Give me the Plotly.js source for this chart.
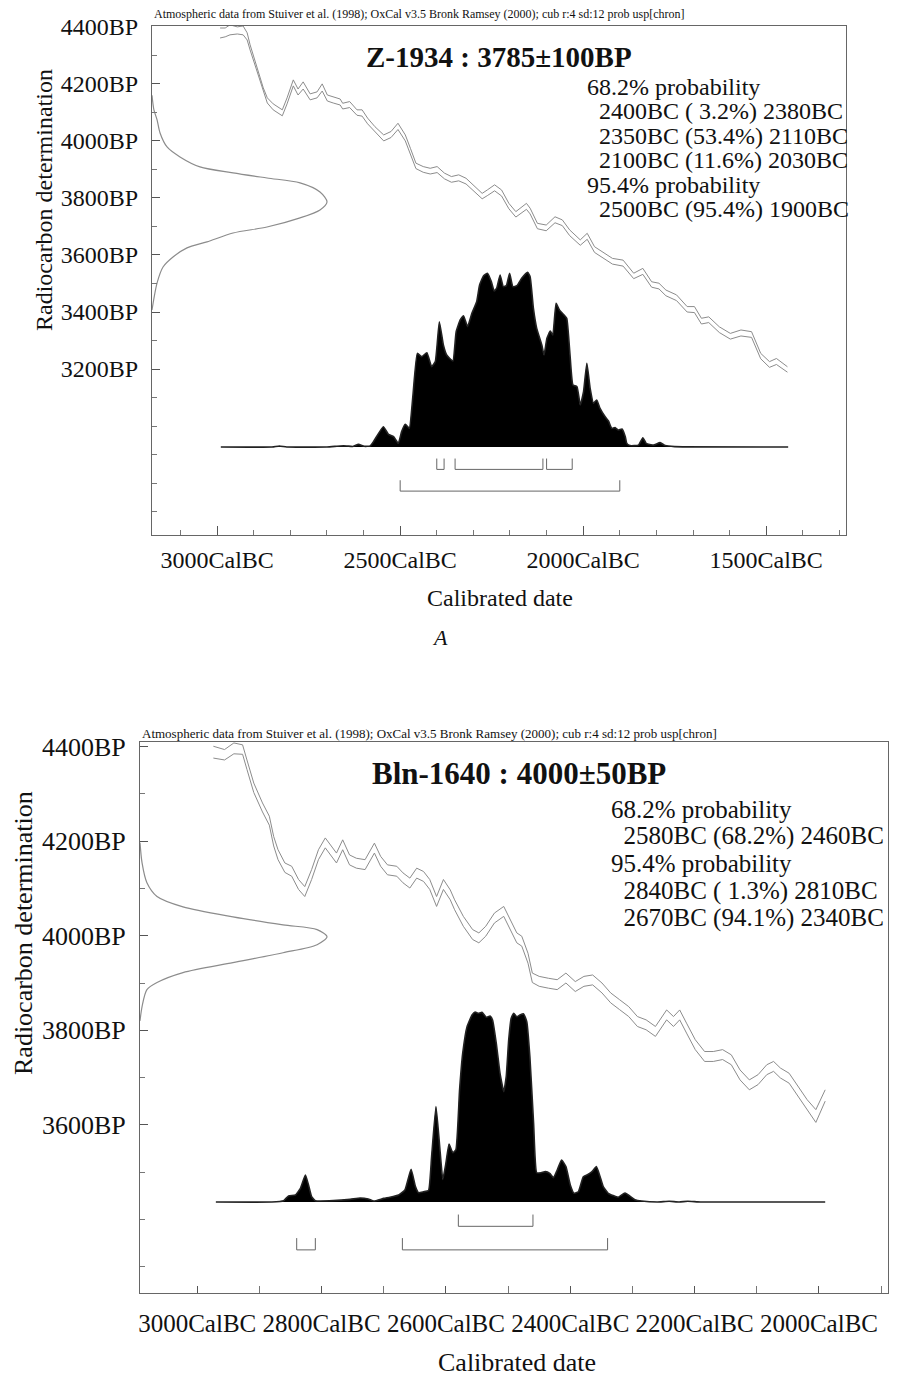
<!DOCTYPE html>
<html><head><meta charset="utf-8">
<script src="https://cdn.plot.ly/plotly-3.0.1.min.js"></script>
<style>html,body{margin:0;padding:0;background:#fff}#chart{width:900px;height:1378px}</style>
</head><body><div id="chart"></div>
<script>
// ---------------- Chart A : Z-1934 ----------------
const calYearsA = [2992,2978,2965,2945,2929,2918,2910,2891,2874,2863,2847,2822,2809,2792,2779,2765,2746,2727,2713,2699,2683,2664,2657,2638,2618,2604,2589,2569,2545,2525,2506,2486,2472,2457,2437,2418,2399,2379,2360,2340,2320,2296,2276,2262,2242,2223,2203,2184,2155,2145,2125,2101,2077,2057,2037,2008,1989,1969,1940,1920,1891,1862,1837,1813,1793,1774,1745,1716,1696,1677,1657,1628,1598,1569,1540,1515,1491,1472,1442];
const calUpperA = [4396,4396,4407,4400,4403,4379,4337,4256,4186,4151,4130,4109,4151,4214,4182,4207,4165,4172,4200,4161,4154,4147,4132,4138,4109,4109,4080,4050,4021,4033,4062,4021,3974,3922,3910,3904,3910,3887,3875,3881,3869,3840,3816,3828,3846,3828,3781,3752,3781,3764,3711,3705,3734,3723,3688,3653,3676,3629,3606,3588,3582,3536,3553,3506,3501,3477,3460,3419,3419,3378,3383,3348,3325,3337,3331,3255,3226,3237,3208];
const calLowerA = [4361,4365,4372,4375,4372,4354,4319,4242,4172,4133,4109,4088,4130,4193,4161,4182,4144,4151,4175,4140,4133,4126,4112,4117,4090,4087,4060,4031,4000,4012,4040,4000,3955,3903,3890,3884,3889,3867,3855,3860,3849,3820,3797,3808,3825,3807,3762,3733,3760,3744,3692,3685,3713,3703,3668,3634,3655,3609,3586,3568,3561,3517,3532,3487,3481,3457,3440,3400,3398,3358,3363,3328,3305,3316,3311,3236,3206,3216,3189];
const probYearsA = [2990,2850,2830,2810,2700,2664,2646,2630,2614,2598,2582,2573,2546,2532,2518,2505,2496,2486,2475,2465,2453,2441,2427,2414,2404,2393,2382,2373,2356,2347,2336,2327,2316,2304,2291,2283,2272,2261,2251,2243,2236,2227,2218,2210,2201,2192,2181,2168,2152,2145,2136,2127,2113,2107,2099,2090,2083,2074,2065,2054,2045,2036,2028,2017,2008,1999,1990,1981,1972,1963,1954,1940,1931,1922,1913,1904,1894,1885,1881,1872,1849,1837,1828,1808,1790,1776,1750,1440];
const probA = [0,0,0.006,0,0,0.006,0.006,0.003,0.015,0.004,0.006,0.03,0.116,0.072,0.059,0.021,0.088,0.130,0.107,0.297,0.535,0.516,0.539,0.459,0.488,0.716,0.583,0.526,0.491,0.659,0.726,0.750,0.688,0.764,0.830,0.926,0.979,0.992,0.945,0.891,0.910,0.983,0.916,0.922,0.992,0.916,0.922,0.964,0.998,0.973,0.792,0.678,0.583,0.526,0.621,0.663,0.640,0.821,0.783,0.758,0.735,0.526,0.354,0.345,0.240,0.316,0.478,0.335,0.250,0.269,0.221,0.173,0.149,0.107,0.111,0.097,0.103,0.059,0.021,0.008,0.011,0.053,0.021,0.011,0.025,0.008,0.002,0];
const gaussBPA = [3407,3502,3558,3593,3625,3646,3677,3698,3730,3758,3786,3821,3853,3870,3888,3909,3944,3979,4028,4074,4109,4160];
const gaussDensA = [0,0.029,0.063,0.12,0.20,0.314,0.463,0.657,0.846,0.96,1.0,0.96,0.846,0.657,0.463,0.274,0.16,0.086,0.046,0.029,0.011,0];
const r68FromA = [2400,2350,2100], r68ToA = [2380,2110,2030], pct68A = [3.2,53.4,11.6];
const r95FromA = [2500], r95ToA = [1900], pct95A = [95.4];
const xTickValsA = [3000,2500,2000,1500];
const xTickTextA = ['3000CalBC','2500CalBC','2000CalBC','1500CalBC'];
const yTickValsA = [3200,3400,3600,3800,4000,4200,4400];
const yTickTextA = ['3200BP','3400BP','3600BP','3800BP','4000BP','4200BP','4400BP'];
const titleA = 'Z-1934 : 3785±100BP';

// ---------------- Chart B : Bln-1640 ----------------
const calYearsB = [2974,2956,2941,2927,2920,2909,2895,2884,2877,2870,2859,2848,2837,2827,2816,2805,2794,2783,2776,2766,2755,2744,2730,2715,2705,2694,2679,2669,2658,2647,2636,2626,2615,2604,2593,2586,2572,2557,2547,2536,2522,2507,2496,2486,2478,2468,2461,2450,2435,2421,2407,2392,2378,2364,2349,2335,2321,2306,2292,2278,2263,2245,2234,2224,2213,2199,2184,2170,2155,2141,2127,2112,2098,2084,2073,2062,2048,2033,2019,2005,1990];
const calUpperB = [4401,4394,4408,4404,4372,4323,4281,4253,4210,4182,4154,4147,4119,4104,4140,4182,4207,4186,4175,4203,4171,4164,4161,4196,4168,4150,4147,4133,4122,4143,4136,4119,4083,4119,4097,4076,4041,4013,4006,4020,4048,4062,4034,4006,3999,3963,3921,3914,3910,3907,3921,3903,3914,3917,3900,3879,3865,3850,3829,3822,3808,3843,3829,3843,3815,3780,3755,3755,3759,3748,3716,3695,3706,3727,3734,3720,3709,3681,3653,3632,3674];
const calLowerB = [4376,4372,4385,4384,4352,4303,4262,4234,4190,4161,4134,4126,4098,4083,4119,4161,4186,4165,4154,4182,4150,4143,4140,4175,4147,4129,4126,4112,4101,4122,4115,4098,4062,4098,4076,4055,4020,3992,3985,3999,4027,4041,4013,3985,3978,3942,3901,3893,3889,3886,3900,3882,3893,3896,3879,3858,3844,3829,3808,3801,3787,3822,3808,3822,3794,3759,3734,3734,3738,3727,3695,3674,3685,3706,3713,3699,3688,3660,3632,3605,3650];
const probYearsB = [2970,2880,2861,2853,2842,2834,2826,2821,2816,2810,2781,2754,2738,2725,2716,2700,2690,2676,2666,2656,2649,2644,2636,2628,2623,2616,2610,2605,2600,2595,2589,2584,2578,2573,2566,2558,2553,2548,2542,2535,2529,2525,2519,2513,2507,2503,2499,2495,2491,2486,2481,2475,2470,2465,2459,2454,2447,2440,2433,2427,2421,2414,2407,2400,2394,2387,2379,2371,2365,2358,2352,2347,2339,2323,2312,2296,2285,2260,2241,2225,2211,2190,1990];
const probB = [0,0,0.007,0.032,0.037,0.072,0.142,0.090,0.028,0.007,0.007,0.014,0.021,0.016,0.005,0.019,0.025,0.037,0.063,0.172,0.081,0.049,0.054,0.060,0.239,0.502,0.291,0.119,0.204,0.305,0.260,0.274,0.590,0.782,0.923,0.984,1.0,0.993,0.998,0.972,0.979,0.958,0.835,0.677,0.581,0.660,0.853,0.967,0.993,0.975,0.984,0.990,0.949,0.765,0.414,0.154,0.154,0.160,0.151,0.128,0.168,0.221,0.186,0.090,0.046,0.054,0.133,0.146,0.160,0.186,0.133,0.081,0.046,0.025,0.047,0.012,0.005,0,0.004,0,0.004,0,0];
const gaussBPB = [3820,3850,3886,3901,3922,3943,3964,3981,3998,4013,4023,4040,4061,4083,4112,4154,4197];
const gaussDensB = [0,0.011,0.037,0.091,0.23,0.497,0.765,0.947,1.0,0.947,0.765,0.497,0.23,0.091,0.037,0.011,0];
const r68FromB = [2580], r68ToB = [2460], pct68B = [68.2];
const r95FromB = [2840,2670], r95ToB = [2810,2340], pct95B = [1.3,94.1];
const xTickValsB = [3000,2800,2600,2400,2200,2000];
const xTickTextB = ['3000CalBC','2800CalBC','2600CalBC','2400CalBC','2200CalBC','2000CalBC'];
const yTickValsB = [3600,3800,4000,4200,4400];
const yTickTextB = ['3600BP','3800BP','4000BP','4200BP','4400BP'];
const titleB = 'Bln-1640 : 4000±50BP';

const headerText = 'Atmospheric data from Stuiver et al. (1998); OxCal v3.5 Bronk Ramsey (2000); cub r:4 sd:12 prob usp[chron]';

// ---------------- layout helpers ----------------
const W = 900, H = 1378;
const FONT = 'Liberation Serif, Times New Roman, Times, serif';
const px = v => v / W, py = v => 1 - v / H;
const NB = '\u00a0';
const boxA = {l:152, r:846, t:26, b:535, base:447, peak:175};
const boxB = {l:140, r:888, t:742, b:1293, base:1202, peak:190};
const gWA = 175, gWB = 187; // gaussian peak widths in px

function brackets(from, to, top, bot) {
  const xs = [], ys = [];
  for (let i = 0; i < from.length; i++) {
    xs.push(from[i], from[i], to[i], to[i], null);
    ys.push(top, bot, bot, top, null);
  }
  return {xs, ys};
}
function rangeLine(a, p, b) {
  let ps = p.toFixed(1);
  if (ps.length < 4) ps = NB + ps;
  return NB + NB + a + 'BC (' + ps + '%) ' + b + 'BC';
}

const CURVE = {color:'#8c8c8c', width:1};
const traces = [];
function addChart(xa, ya, xg, yp, yrs, up, lo, gbp, gd, pyrs, pv, f68, t68, f95, t95) {
  traces.push({x:yrs, y:up, xaxis:xa, yaxis:ya, type:'scatter', mode:'lines', line:CURVE, hoverinfo:'skip'});
  traces.push({x:yrs, y:lo, xaxis:xa, yaxis:ya, type:'scatter', mode:'lines', line:CURVE, hoverinfo:'skip'});
  traces.push({x:gd, y:gbp, xaxis:xg, yaxis:ya, type:'scatter', mode:'lines', line:{color:'#8c8c8c', width:1.2, shape:'spline', smoothing:0.8}, hoverinfo:'skip'});
  traces.push({x:pyrs, y:pv, xaxis:xa, yaxis:yp, type:'scatter', mode:'lines', fill:'tozeroy', fillcolor:'#000', line:{color:'#222', width:1.6, shape:'spline', smoothing:0.4}, hoverinfo:'skip'});
  const b1 = brackets(f68, t68, -0.066, -0.128);
  const b2 = brackets(f95, t95, -0.190, -0.252);
  traces.push({x:b1.xs, y:b1.ys, xaxis:xa, yaxis:yp, type:'scatter', mode:'lines', line:{color:'#666', width:1}, hoverinfo:'skip'});
  traces.push({x:b2.xs, y:b2.ys, xaxis:xa, yaxis:yp, type:'scatter', mode:'lines', line:{color:'#666', width:1}, hoverinfo:'skip'});
}
addChart('x','y','x3','y3', calYearsA, calUpperA, calLowerA, gaussBPA, gaussDensA, probYearsA, probA, r68FromA, r68ToA, r95FromA, r95ToA);
addChart('x2','y2','x4','y4', calYearsB, calUpperB, calLowerB, gaussBPB, gaussDensB, probYearsB, probB, r68FromB, r68ToB, r95FromB, r95ToB);

function mainX(box, range, tv, tt, fs, minorLen, majorLen, anchor, standoff) {
  return {domain:[px(box.l), px(box.r)], range:range, anchor:anchor, autorange:false,
    tickmode:'array', tickvals:tv, ticktext:tt, ticks:'inside', ticklen:majorLen, tickwidth:1, tickcolor:'#555',
    minor:{tickmode:'linear', tick0:0, dtick:100, ticks:'inside', ticklen:minorLen, tickwidth:1, tickcolor:'#777', showgrid:false},
    showline:true, mirror:true, linecolor:'#666', linewidth:1, showgrid:false, zeroline:false,
    tickfont:{family:FONT, size:fs, color:'#111'}, ticklabelstandoff:standoff, fixedrange:true};
}
function mainY(box, range, tv, tt, fs, anchor) {
  return {domain:[py(box.b), py(box.t)], range:range, anchor:anchor, autorange:false,
    tickmode:'array', tickvals:tv, ticktext:tt, ticks:'inside', ticklen:8, tickwidth:1, tickcolor:'#555',
    minor:{tickmode:'linear', tick0:0, dtick:100, ticks:'inside', ticklen:5, tickwidth:1, tickcolor:'#777', showgrid:false},
    showline:true, mirror:true, linecolor:'#666', linewidth:1, showgrid:false, zeroline:false,
    tickfont:{family:FONT, size:fs, color:'#111'}, ticklabelstandoff:8, fixedrange:true};
}
function overlayX(box, over, anchor, gw) {
  return {domain:[px(box.l), px(box.r)], overlaying:over, anchor:anchor, range:[0, (box.r - box.l) / gw], visible:false, fixedrange:true};
}
function overlayY(box, over, anchor) {
  const below = (box.b - box.base) / box.peak, above = (box.base - box.t) / box.peak;
  return {domain:[py(box.b), py(box.t)], overlaying:over, anchor:anchor, range:[-below, above], visible:false, fixedrange:true};
}

function ann(text, x, y, size, opts) {
  return Object.assign({text:text, x:px(x), y:py(y), xref:'paper', yref:'paper', showarrow:false,
    xanchor:'left', yanchor:'middle', font:{family:FONT, size:size, color:'#111'}}, opts || {});
}
const annotations = [];
// chart A texts
annotations.push(ann(headerText, 152, 14, 12));
annotations.push(ann('<b>' + titleA + '</b>', 499, 57, 29, {xanchor:'center'}));
let yA = 87;
annotations.push(ann('68.2% probability', 585, yA, 24)); yA += 24.4;
for (let i = 0; i < r68FromA.length; i++) { annotations.push(ann(rangeLine(r68FromA[i], pct68A[i], r68ToA[i]), 585, yA, 24)); yA += 24.4; }
annotations.push(ann('95.4% probability', 585, yA, 24)); yA += 24.4;
for (let i = 0; i < r95FromA.length; i++) { annotations.push(ann(rangeLine(r95FromA[i], pct95A[i], r95ToA[i]), 585, yA, 24)); yA += 24.4; }
annotations.push(ann('Radiocarbon determination', 44, 200, 24, {xanchor:'center', textangle:-90}));
annotations.push(ann('Calibrated date', 500, 598, 24, {xanchor:'center'}));
annotations.push(ann('<i>A</i>', 440, 637, 22, {xanchor:'center'}));
// chart B texts
annotations.push(ann(headerText, 140, 733, 13));
annotations.push(ann('<b>' + titleB + '</b>', 519, 773, 31, {xanchor:'center'}));
let yB = 809;
const fsB = 25, stepB = 27.3;
annotations.push(ann('68.2% probability', 609, yB, fsB)); yB += stepB;
for (let i = 0; i < r68FromB.length; i++) { annotations.push(ann(rangeLine(r68FromB[i], pct68B[i], r68ToB[i]), 609, yB, fsB)); yB += stepB; }
annotations.push(ann('95.4% probability', 609, yB, fsB)); yB += stepB;
for (let i = 0; i < r95FromB.length; i++) { annotations.push(ann(rangeLine(r95FromB[i], pct95B[i], r95ToB[i]), 609, yB, fsB)); yB += stepB; }
annotations.push(ann('Radiocarbon determination', 23, 933, 26, {xanchor:'center', textangle:-90}));
annotations.push(ann('Calibrated date', 517, 1362, 26, {xanchor:'center'}));

const layout = {
  width:W, height:H, margin:{l:0, r:0, t:0, b:0, pad:0},
  paper_bgcolor:'#fff', plot_bgcolor:'#fff', showlegend:false, dragmode:false,
  xaxis: mainX(boxA, [3178, 1282], xTickValsA, xTickTextA, 24, 5, 9, 'y', 3),
  yaxis: mainY(boxA, [2618, 4403], yTickValsA, yTickTextA, 24, 'x'),
  xaxis3: overlayX(boxA, 'x', 'y', gWA),
  yaxis3: overlayY(boxA, 'y', 'x'),
  xaxis2: mainX(boxB, [3092, 1889], xTickValsB, xTickTextB, 25, 7, 7, 'y2', 8),
  yaxis2: mainY(boxB, [3244, 4410], yTickValsB, yTickTextB, 26, 'x2'),
  xaxis4: overlayX(boxB, 'x2', 'y2', gWB),
  yaxis4: overlayY(boxB, 'y2', 'x2'),
  annotations: annotations
};
Plotly.newPlot('chart', traces, layout, {staticPlot:true, displayModeBar:false});
</script>
</body></html>
